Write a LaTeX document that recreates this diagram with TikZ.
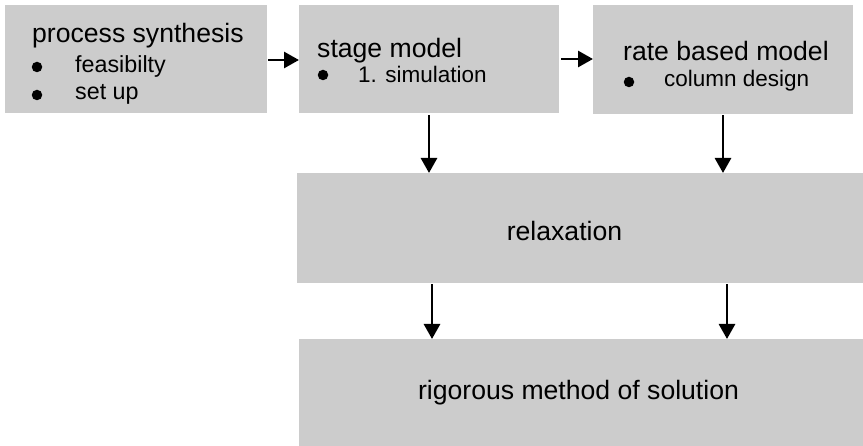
\documentclass[tikz,border=0pt]{standalone}
\usepackage{fontspec}
\setmainfont{Liberation Sans}
\usetikzlibrary{arrows.meta}
\definecolor{boxgray}{RGB}{204,204,204}
\tikzset{
  box/.style={fill=boxgray, draw=none, anchor=north west, inner sep=0pt},
  maintxt/.style={anchor=base west, inner sep=0pt, font=\fontsize{26.6}{30}\selectfont},
  subtxt/.style={anchor=base west, inner sep=0pt, font=\fontsize{22.5}{26}\selectfont},
  subtxtA/.style={anchor=base west, inner sep=0pt, font=\fontsize{23.3}{26}\selectfont},
  bul/.style={circle, fill=black, inner sep=0pt, minimum size=10.5pt},
  arr/.style={line width=2.8pt, -{Triangle[length=15pt,width=16pt]}}
}
\begin{document}
\begin{tikzpicture}[x=1pt,y=-1pt]
\useasboundingbox (0,0) rectangle (863,446);
% boxes
\node[box, minimum width=262pt, minimum height=108pt] (synth) at (5,5) {};
\node[box, minimum width=260pt, minimum height=108pt] (stage) at (299,5) {};
\node[box, minimum width=260pt, minimum height=109pt] (rate) at (593,5) {};
\node[box, minimum width=566pt, minimum height=110pt] (relax) at (297,173) {};
\node[box, minimum width=564pt, minimum height=107pt] (rig) at (299,339) {};
% texts box 1
\node[maintxt] (t1) at (32,43) {process synthesis};
\node[bul] (b11) at (37,67) {};
\node[subtxtA] (t11) at (75,73) {feasibilty};
\node[bul] (b12) at (37,95) {};
\node[subtxtA] (t12) at (75,100) {set up};
% texts box 2
\node[maintxt] (t2) at (317,58) {stage model};
\node[bul] (b21) at (323,75) {};
\node[subtxt] (t21) at (358,83) {1. simulation};
% texts box 3
\node[maintxt] (t3) at (623,61) {rate based model};
\node[bul] (b31) at (629,82) {};
\node[subtxt] (t31) at (664,87) {column design};
% relaxation / rigorous
\node[maintxt, anchor=base] (t4) at (564.5,241) {relaxation};
\node[maintxt, anchor=base] (t5) at (578.5,400) {rigorous method of solution};
% arrow coordinates
\coordinate (h1) at (0,60);
\coordinate (h2) at (0,59);
\coordinate (v1) at (429,0);
\coordinate (v2) at (723,0);
\coordinate (v3) at (432,0);
\coordinate (v4) at (727,0);
% arrows
\draw[arr, shorten <=1pt] (synth.east |- h1) -- (stage.west |- h1);
\draw[arr, shorten <=2pt] (stage.east |- h2) -- (rate.west |- h2);
\draw[arr, shorten <=2pt] (stage.south -| v1) -- (relax.north -| v1);
\draw[arr, shorten <=1pt] (rate.south -| v2) -- (relax.north -| v2);
\draw[arr, shorten <=1pt] (relax.south -| v3) -- (rig.north -| v3);
\draw[arr, shorten <=1pt] (relax.south -| v4) -- (rig.north -| v4);
\end{tikzpicture}
\end{document}
